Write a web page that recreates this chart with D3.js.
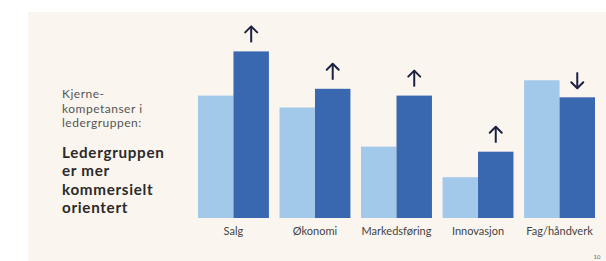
<!DOCTYPE html>
<html>
<head>
<meta charset="utf-8">
<script src="https://cdn.jsdelivr.net/npm/d3@7"></script>
<style>
  body { margin: 0; background: #ffffff; }
  svg { display: block; font-family: Lato, "Open Sans", sans-serif; }
</style>
</head>
<body>
<div class="chart"></div>
<script>
var categories = ["Salg", "Økonomi", "Markedsføring", "Innovasjon", "Fag/håndverk"];
var before = [72, 65, 42, 24, 81];
var after = [98, 76, 72, 39, 71];
var introLines = ["Kjerne-", "kompetanser i", "ledergruppen:"];
var headLines = ["Ledergruppen", "er mer", "kommersielt", "orientert"];

var w = 606;
var h = 261;

var svg = d3.select(".chart")
    .append("svg")
    .attr("width", w)
    .attr("height", h);

// cream slide area
svg.append("rect")
    .attr("x", 28)
    .attr("y", 12)
    .attr("width", w - 28)
    .attr("height", h - 12)
    .attr("fill", "#faf6ef");

var x = d3.scaleBand()
    .domain(categories)
    .range([198, 595])
    .paddingInner(0.13)
    .paddingOuter(0);

var sub = d3.scaleBand()
    .domain(["before", "after"])
    .range([0, x.bandwidth()]);

var y = d3.scaleLinear()
    .domain([0, 100])
    .range([218, 48]);

var rows = categories.map(function(c, i) {
    return { cat: c, before: before[i], after: after[i] };
});

var groups = svg.selectAll(".group")
    .data(rows)
    .enter()
    .append("g")
    .attr("class", "group")
    .attr("transform", d => "translate(" + x(d.cat) + ",0)");

groups.append("rect")
    .attr("x", sub("before"))
    .attr("y", d => y(d.before))
    .attr("width", sub.bandwidth())
    .attr("height", d => y(0) - y(d.before))
    .attr("fill", "#a2c8ea");

groups.append("rect")
    .attr("x", sub("after"))
    .attr("y", d => y(d.after))
    .attr("width", sub.bandwidth())
    .attr("height", d => y(0) - y(d.after))
    .attr("fill", "#3a68b0");

// arrows over the dark bars
groups.each(function(d) {
    var g = d3.select(this);
    var cx = sub("after") + sub.bandwidth() / 2;
    var up = d.after > d.before;
    var bottom = y(d.after) - 9;
    var top = bottom - 16;
    g.append("line")
        .attr("x1", cx).attr("x2", cx)
        .attr("y1", top).attr("y2", bottom)
        .attr("stroke", "#1b2142")
        .attr("stroke-width", 2);
    var tip = up ? top : bottom;
    var dy = up ? 6 : -6;
    g.append("path")
        .attr("d", "M" + (cx - 6) + "," + (tip + dy) + "L" + cx + "," + tip + "L" + (cx + 6) + "," + (tip + dy))
        .attr("fill", "none")
        .attr("stroke", "#1b2142")
        .attr("stroke-width", 2)
        .attr("stroke-linecap", "round")
        .attr("stroke-linejoin", "round");
});

var axisX = d3.axisBottom(x).tickSize(0).tickPadding(9);

svg.append("g")
    .attr("transform", "translate(0," + y(0) + ")")
    .call(axisX)
    .call(g => g.select(".domain").remove())
    .selectAll("text")
    .attr("font-size", 11)
    .attr("fill", "#444")
    .attr("font-family", "Lato, sans-serif");

// left text
svg.append("text")
    .attr("x", 62)
    .attr("y", 98)
    .attr("fill", "#555")
    .attr("font-size", 12)
    .attr("letter-spacing", 0.5)
    .selectAll("tspan")
    .data(introLines)
    .enter()
    .append("tspan")
    .attr("x", 62)
    .attr("dy", (d, i) => i === 0 ? 0 : 14.5)
    .text(d => d);

svg.append("text")
    .attr("x", 62)
    .attr("y", 158)
    .attr("fill", "#2a2a2a")
    .attr("font-size", 15.2)
    .attr("font-weight", "bold")
    .attr("letter-spacing", 0.7)
    .selectAll("tspan")
    .data(headLines)
    .enter()
    .append("tspan")
    .attr("x", 62)
    .attr("dy", (d, i) => i === 0 ? 0 : 18.3)
    .text(d => d);

svg.append("text")
    .attr("x", 597)
    .attr("y", 259)
    .attr("text-anchor", "middle")
    .attr("font-size", 6)
    .attr("fill", "#666")
    .text("10");
</script>
</body>
</html>
